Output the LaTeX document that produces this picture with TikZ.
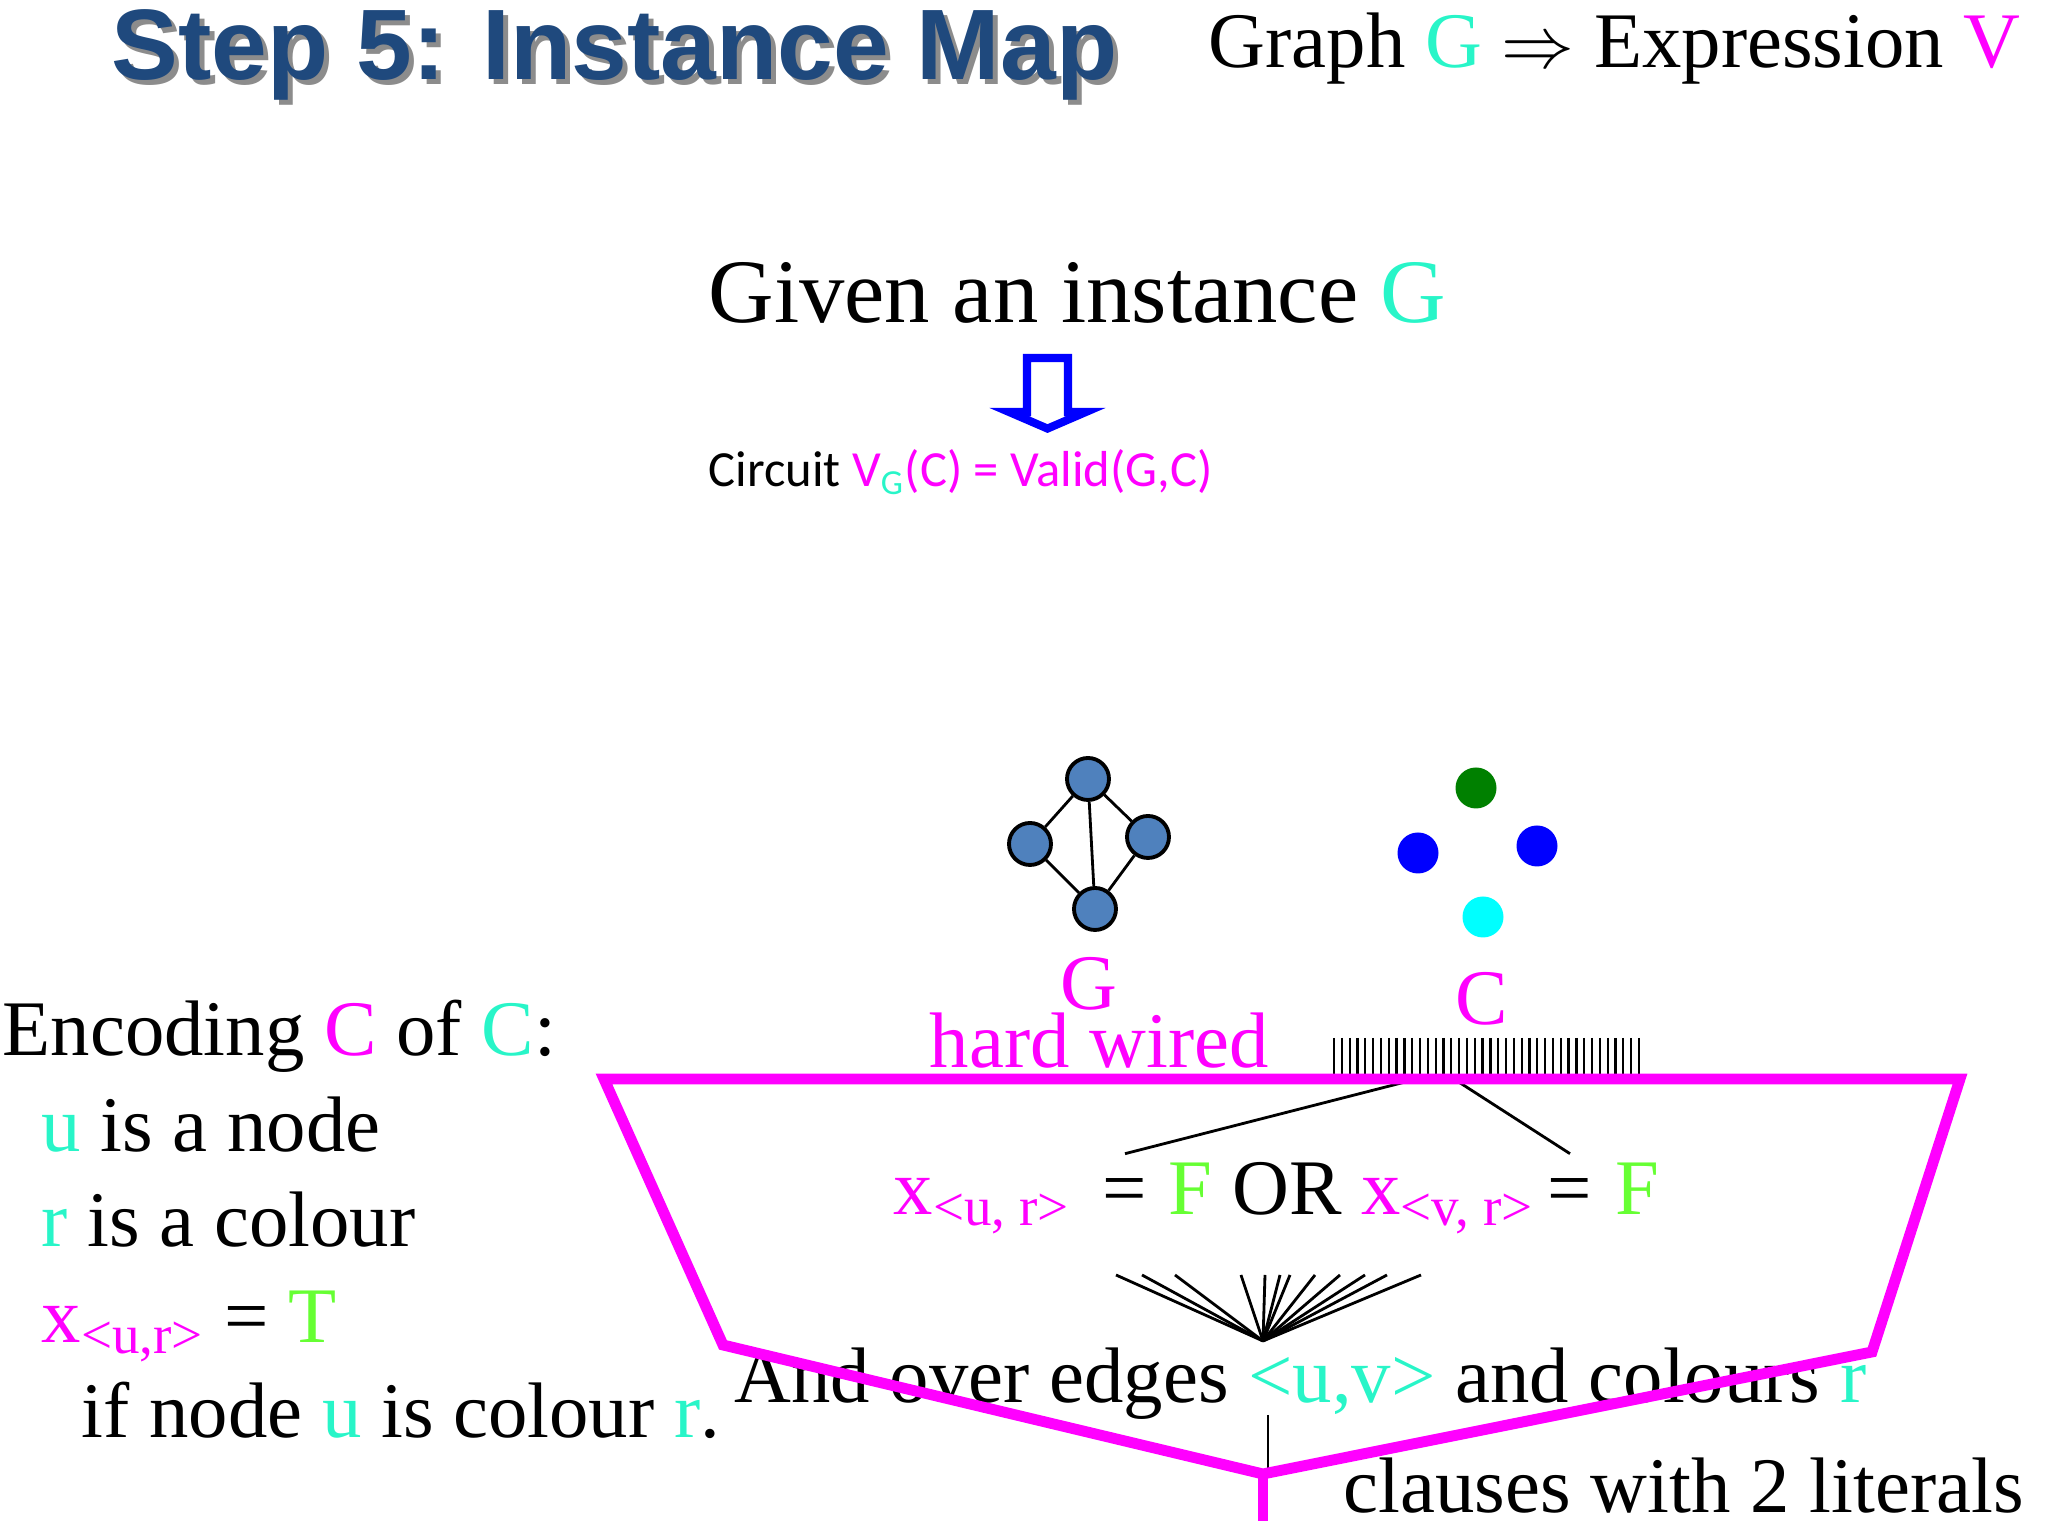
\documentclass[tikz,border=0pt]{standalone}
\usepackage{fontspec}
\setmainfont{Liberation Serif}
\setsansfont{Liberation Sans}
\newfontfamily\calibrifont{Carlito}
\usepackage{tikz}

\definecolor{titleblue}{RGB}{31,73,125}
\definecolor{tq}{RGB}{40,245,200}
\definecolor{mag}{RGB}{255,0,255}
\definecolor{lime}{RGB}{102,255,51}
\definecolor{steel}{RGB}{79,129,189}
\definecolor{dkgreen}{RGB}{0,128,0}
\definecolor{aqua}{RGB}{0,255,255}

\begin{document}
\begin{tikzpicture}[
  txt/.style={inner sep=0pt, anchor=base west, font=\fontsize{22.4}{27}\selectfont},
  vertex/.style={circle, draw=black, line width=1.1pt, fill=steel, minimum size=0.42cm, inner sep=0pt},
  dot/.style={circle, minimum size=0.41cm, inner sep=0pt},
  wire/.style={mag, line width=3.1pt, line join=miter},
  thin/.style={black, line width=0.8pt}
]
\useasboundingbox (0,0) rectangle (20.48,15.36);

% Title with its shadow
 \node[txt, font=\sffamily\bfseries\fontsize{28.5}{32}\selectfont, text=black!45] (titleshadow) at (1.16,14.51) {Step 5: Instance Map};
 \node[txt, font=\sffamily\bfseries\fontsize{28.5}{32}\selectfont, text=titleblue] (title) at (1.11,14.56) {Step 5: Instance Map};
 \node[txt] (mapping) at (12.08,14.68) {Graph \textcolor{tq}{G} $\Rightarrow$ Expression \textcolor{mag}{V}};

 \node[txt, font=\fontsize{25.8}{31}\selectfont] (given) at (7.08,12.13) {Given an instance \textcolor{tq}{G}};
 % Hollow blue arrow
 \draw[blue, line width=2.3pt, fill=white, line join=miter] (10.27,11.78) -- (10.68,11.78) -- (10.68,11.24) -- (10.86,11.24) -- (10.475,11.074) -- (10.09,11.24) -- (10.27,11.24) -- cycle;
 \node[txt, font=\calibrifont\fontsize{14.4}{17}\selectfont] (circuit) at (7.08,10.49) {Circuit \textcolor{mag}{V\textsubscript{\textcolor{tq}{G}}(C) = Valid(G,C)}};

% The graph G
 \node[vertex] (gt) at (10.88,7.57) {};
 \node[vertex] (gl) at (10.30,6.92) {};
 \node[vertex] (gr) at (11.48,6.99) {};
 \node[vertex] (gb) at (10.95,6.27) {};
 \draw[thin] (gt) -- (gl) (gt) -- (gr) (gt) -- (gb) (gl) -- (gb) (gr) -- (gb);

% The colouring C
 \node[dot, fill=dkgreen] (cgreen) at (14.76,7.48) {};
 \node[dot, fill=blue] (cbluel) at (14.18,6.83) {};
 \node[dot, fill=blue] (cbluer) at (15.37,6.90) {};
 \node[dot, fill=aqua] (ccyan) at (14.83,6.19) {};

 \node[txt, anchor=base, text=mag] (glabel) at (10.89,5.26) {G};
 \node[txt, anchor=base, text=mag] (clabel) at (14.82,5.11) {C};
 \node[txt, text=mag] (hard) at (9.29,4.68) {hard wired};

% Input pins of the circuit
 \foreach \i in {0,...,39}
   \draw[line width=0.65pt] (13.34+\i*0.0782,4.98) -- (13.34+\i*0.0782,4.62);

% One clause
 \node[txt, text=mag] (xu) at (8.93,3.21) {x\textsubscript{<u, r>}};
 \node[txt, anchor=base] (eqa) at (11.25,3.21) {=};
 \node[txt] (fa) at (11.68,3.21) {\textcolor{lime}{F} OR \textcolor{mag}{x\textsubscript{<v, r>}}};
 \node[txt, anchor=base] (eqb) at (15.70,3.21) {=};
 \node[txt, text=lime] (fb) at (16.15,3.21) {F};
 \coordinate (comba) at (14.17,4.57);
 \coordinate (combb) at (14.54,4.57);
 \draw[thin] (comba) -- ([yshift=7pt]eqa.north);
 \draw[thin] (combb) -- ([yshift=7pt]eqb.north);

% Fan of clauses into the AND
 \coordinate (apex) at (12.63,1.95);
 \foreach \x in {11.16,11.42,11.75,12.41,12.65,12.80,12.90,13.15,13.40,13.65,13.87,14.21}
   \draw[thin] (\x,2.61) -- (apex);

 \node[txt] (edges) at (7.34,1.33) {And over edges \textcolor{tq}{<u,v>} and colours \textcolor{tq}{r}};
 \coordinate (vtop) at (12.68,1.21);
 \coordinate (vbot) at (12.68,0.68);
 \draw[line width=0.7pt] (vtop) -- (vbot);
 \node[txt] (clauses) at (13.43,0.23) {clauses with 2 literals};

% Circuit outline
 \draw[wire] (6.04,4.57) -- (19.60,4.57) -- (18.72,1.84) -- (12.63,0.62) -- (7.23,1.91) -- cycle;
 \draw[wire] (12.63,0.62) -- (12.63,0.15);

% Encoding on the left
 \node[txt] (enc) at (0.02,4.80) {Encoding \textcolor{mag}{C} of \textcolor{tq}{C}:};
 \node[txt] (unode) at (0.41,3.84) {\textcolor{tq}{u} is a node};
 \node[txt] (rcol) at (0.41,2.89) {\textcolor{tq}{r} is a colour};
 \node[txt] (xur) at (0.41,1.93) {\textcolor{mag}{x\textsubscript{<u,r>}} = \textcolor{lime}{T}};
 \node[txt] (ifnode) at (0.81,0.98) {if node \textcolor{tq}{u} is colour \textcolor{tq}{r}.};

\end{tikzpicture}
\end{document}
